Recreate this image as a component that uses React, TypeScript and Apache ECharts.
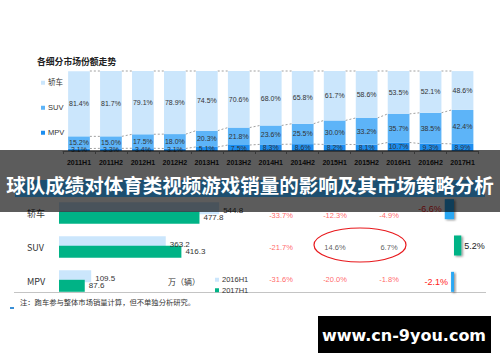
import React, { useEffect, useRef } from "react";
import * as echarts from "echarts";

const periods = ["2011H1", "2011H2", "2012H1", "2012H2", "2013H1", "2013H2", "2014H1", "2014H2", "2015H1", "2015H2", "2016H1", "2016H2", "2017H1"];
const sedanShare = [81.4, 81.7, 79.1, 78.9, 74.5, 70.6, 68.0, 65.8, 61.7, 58.6, 53.5, 52.1, 48.6];
const suvShare = [15.2, 15.0, 17.5, 18.0, 20.3, 21.8, 23.6, 25.5, 30.0, 33.2, 35.7, 38.5, 42.4];
const mpvShare = [3.1, 3.3, 3.4, 3.1, 5.1, 7.5, 8.3, 8.6, 8.2, 8.1, 10.7, 9.3, 8.9];

const segments = ["轿车", "SUV", "MPV"];
const sales2016H1 = [544.8, 363.2, 109.5];
const sales2017H1 = [477.8, 416.3, 87.6];
const shareChange = [-6.6, 5.2, -2.1];

const tableCols = ["c1", "c2", "c3"];
const tableValues = [
  [-33.7, -12.3, -4.9],
  [-21.7, 14.6, 6.7],
  [-31.6, -20.0, -1.8],
];

const FONT = "'Liberation Sans', 'Noto Sans CJK SC', sans-serif";
const CJK = "'Noto Sans CJK SC', sans-serif";

export default function App() {
  const ref = useRef<HTMLDivElement>(null);
  useEffect(() => {
    const chart = echarts.init(ref.current!, null, { renderer: "svg" });
    const pct = (p: any) => Number(p.value).toFixed(1) + "%";
    const level = (k: number) => [mpvShare[k], mpvShare[k] + suvShare[k], 100];
    const tableData: any[] = [];
    tableValues.forEach((row, r) =>
      row.forEach((v, c) => tableData.push({ value: [c, r, v], label: { color: v < 0 ? "#ff4040" : "#333" } }))
    );
    const option: any = {
      animation: false,
      textStyle: { fontFamily: FONT },
      grid: [
        { left: 63, right: 21.5, top: 71, bottom: 211 },
        { left: 59, right: 147, top: 196, bottom: 64 },
        { left: 440, right: 32, top: 191, bottom: 62 },
        { left: 254, right: 84, top: 199, bottom: 67 },
      ],
      legend: [
        {
          data: ["轿车", "SUV", "MPV"], orient: "vertical", left: 36, top: 74,
          itemWidth: 4, itemHeight: 4, itemGap: 17.5, icon: "rect",
          textStyle: { fontSize: 7.5, color: "#333", fontFamily: FONT, padding: [0, 0, 0, -2] },
        },
        {
          data: ["2016H1", "2017H1"], orient: "vertical", left: 210, top: 271,
          itemWidth: 4, itemHeight: 4, itemGap: 3, icon: "rect",
          textStyle: { fontSize: 7.5, color: "#333", fontFamily: FONT, padding: [0, 0, 0, -2] },
        },
      ],
      xAxis: [
        {
          gridIndex: 0, type: "category", data: periods,
          axisLine: { lineStyle: { color: "#999" } },
          axisTick: { show: true, length: 3, lineStyle: { color: "#999" } },
          axisLabel: { fontSize: 7, fontWeight: "bold", color: "#222", margin: 8 },
        },
        { gridIndex: 1, type: "value", min: 0, max: 1000, show: false },
        { gridIndex: 2, type: "value", min: -10, max: 10, show: false },
        { gridIndex: 3, type: "category", data: tableCols, show: false },
      ],
      yAxis: [
        { gridIndex: 0, type: "value", min: 0, max: 100, show: false },
        {
          gridIndex: 1, type: "category", data: segments, inverse: true,
          axisLine: { show: false }, axisTick: { show: false },
          axisLabel: { fontSize: 9, color: "#333", margin: 32, align: "left", fontFamily: CJK },
        },
        { gridIndex: 2, type: "category", data: segments, inverse: true, show: false },
        { gridIndex: 3, type: "category", data: segments, inverse: true, show: false },
      ],
      series: [
        {
          name: "MPV", type: "bar", stack: "share", xAxisIndex: 0, yAxisIndex: 0, barWidth: "68%",
          data: mpvShare, itemStyle: { color: "#1c8ef0" },
          label: { show: true, position: "inside", formatter: pct, fontSize: 7, color: "#333" },
        },
        {
          name: "SUV", type: "bar", stack: "share", xAxisIndex: 0, yAxisIndex: 0,
          data: suvShare, itemStyle: { color: "#5db4f8" },
          label: { show: true, position: "inside", formatter: pct, fontSize: 7, color: "#333" },
        },
        {
          name: "轿车", type: "bar", stack: "share", xAxisIndex: 0, yAxisIndex: 0,
          data: sedanShare, itemStyle: { color: "#cbe6fc" },
          label: { show: true, position: "inside", formatter: pct, fontSize: 7, color: "#333" },
        },
        {
          name: "connectors", type: "custom", xAxisIndex: 0, yAxisIndex: 0, silent: true,
          data: periods.slice(0, -1).map((_, i) => [i, 0]),
          renderItem: (params: any, api: any) => {
            const i = api.value(0);
            const bw = api.size([1, 0])[0] * 0.34;
            const children = [0, 1, 2].map((j) => {
              const p1 = api.coord([i, level(i)[j]]);
              const p2 = api.coord([i + 1, level(i + 1)[j]]);
              return {
                type: "line",
                shape: { x1: p1[0] + bw, y1: p1[1], x2: p2[0] - bw, y2: p2[1] },
                style: { stroke: "#888", lineWidth: 0.8, lineDash: [2, 2] },
              };
            });
            return { type: "group", children };
          },
        },
        {
          name: "2016H1", type: "bar", xAxisIndex: 1, yAxisIndex: 1, barWidth: 12, barGap: "-20%",
          data: sales2016H1, itemStyle: { color: "#cbe6fc" },
          label: { show: true, position: "right", distance: 4, fontSize: 8, color: "#333", formatter: (p: any) => Number(p.value).toFixed(1), offset: [0, 2] },
        },
        {
          name: "2017H1", type: "bar", xAxisIndex: 1, yAxisIndex: 1, barWidth: 12, barGap: "-20%",
          data: sales2017H1, itemStyle: { color: "#00b386" },
          label: { show: true, position: "right", distance: 4, fontSize: 8, color: "#333", formatter: (p: any) => Number(p.value).toFixed(1) },
        },
        {
          name: "yoy", type: "bar", xAxisIndex: 2, yAxisIndex: 2, barWidth: 20,
          data: shareChange.map((v) => ({
            value: v,
            itemStyle: { color: v > 0 ? "#00b386" : "#2aa8f4", shadowBlur: 2, shadowOffsetX: 1.5, shadowOffsetY: 1, shadowColor: "rgba(0,0,0,0.45)" },
            label: { position: v > 0 ? "right" : "left", color: v > 0 ? "#222" : "#ff2020" },
          })),
          label: { show: true, fontSize: 9, distance: 3, formatter: (p: any) => Number(p.value).toFixed(1) + "%" },
        },
        {
          name: "table", type: "scatter", xAxisIndex: 3, yAxisIndex: 3, symbolSize: 0,
          data: tableData,
          label: { show: true, position: "inside", fontSize: 7.5, formatter: (p: any) => Number(p.value[2]).toFixed(1) + "%" },
        },
      ],
      graphic: [
        { type: "text", left: 37, top: 57, style: { text: "各细分市场份额走势", font: `bold 8.8px ${CJK}`, fill: "#222" } },
        { type: "text", left: 168, top: 277, style: { text: "万（辆）", font: `8px ${CJK}`, fill: "#333" } },
        { type: "ellipse", shape: { cx: 360, cy: 245, rx: 46, ry: 17 }, style: { fill: "none", stroke: "#e8181c", lineWidth: 1.2 } },
        { type: "line", shape: { x1: 14, y1: 292.5, x2: 486, y2: 292.5 }, style: { stroke: "#c4c4c4", lineWidth: 1 } },
        { type: "text", left: 20, top: 298, style: { text: "注：跑车参与整体市场销量计算，但不单独分析研究。", font: `7.3px ${CJK}`, fill: "#333" } },
        { type: "rect", shape: { x: 10, y: 307, width: 4, height: 2 }, style: { fill: "#3a8fd6" } },
        { type: "rect", z: 100, shape: { x: 0, y: 150, width: 500, height: 62 }, style: { fill: "rgba(0,0,0,0.64)" } },
        { type: "rect", z: 101, shape: { x: 15, y: 180, width: 470, height: 17 }, style: { fill: "#1d4f70" } },
        {
          type: "text", z: 102, x: 250, y: 184,
          style: { text: "球队成绩对体育类视频游戏销量的影响及其市场策略分析", font: `bold 19.5px ${CJK}`, fill: "#fff", align: "center", verticalAlign: "middle" },
        },
        { type: "rect", z: 100, shape: { x: 318, y: 316, width: 173, height: 37 }, style: { fill: "#000" } },
        {
          type: "text", z: 101, x: 404, y: 335,
          style: { text: "www.cn-9you.com", font: `bold 16px 'DejaVu Sans', sans-serif`, fill: "#fff", align: "center", verticalAlign: "middle" },
        },
      ],
    };
    chart.setOption(option);
    return () => chart.dispose();
  }, []);
  return <div ref={ref} style={{ position: "fixed", left: 0, top: 0, width: 500, height: 362, background: "#fff" }} />;
}
